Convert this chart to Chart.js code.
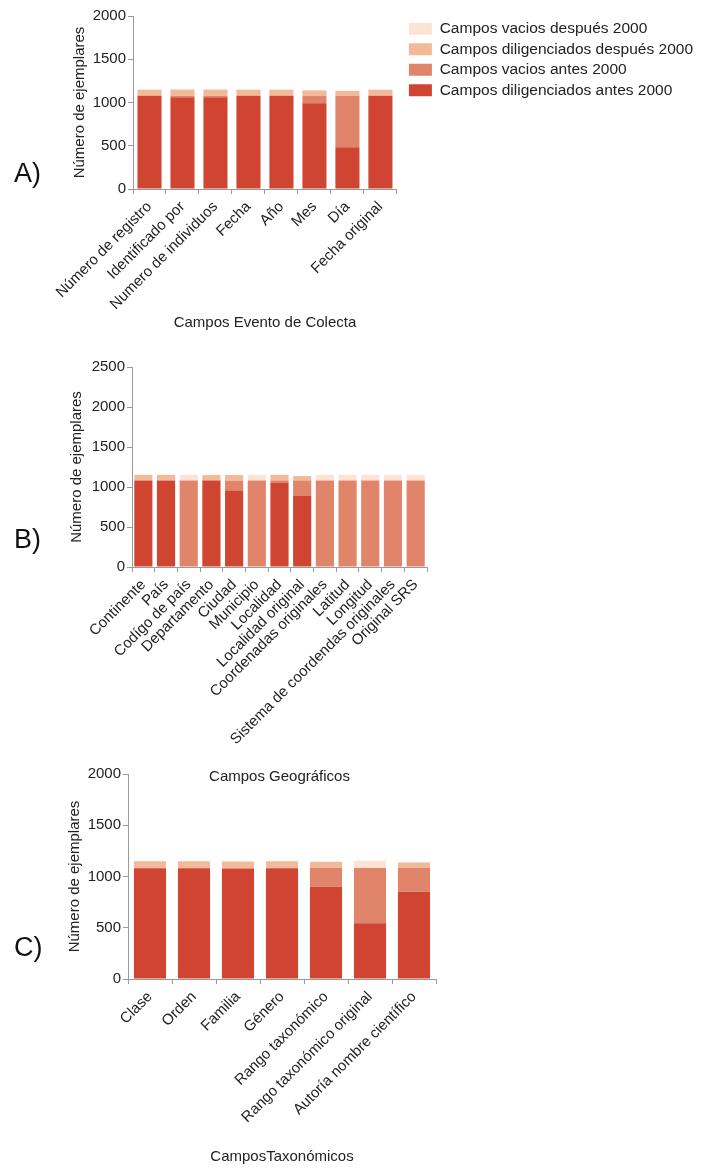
<!DOCTYPE html>
<html>
<head>
<meta charset="utf-8">
<script src="https://cdn.jsdelivr.net/npm/chart.js@4.4.1/dist/chart.umd.min.js"></script>
<style>
body { margin: 0; width: 705px; height: 1170px; position: relative; background: #fff; overflow: hidden; font-family: "Liberation Sans", Arial, sans-serif; }
canvas { position: absolute; left: 0; }
.panel { position: absolute; left: 14px; font-size: 27px; color: #111; }
</style>
</head>
<body>
<canvas id="chartA" width="705" height="336" style="top:0px"></canvas>
<canvas id="chartB" width="705" height="450" style="top:340px"></canvas>
<canvas id="chartC" width="705" height="410" style="top:760px"></canvas>
<div class="panel" style="top:158px">A)</div>
<div class="panel" style="top:524px">B)</div>
<div class="panel" style="top:932px">C)</div>
<script>
// series names (bottom to top of each stack)
const seriesNames = ['Campos diligenciados antes 2000', 'Campos vacios antes 2000', 'Campos diligenciados después 2000', 'Campos vacios después 2000'];
const seriesColors = ['#cf4532', '#e0846a', '#f2ba98', '#fce3d6'];

// A) Campos Evento de Colecta
const labelsA = ['Número de registro', 'Identificado por', 'Numero de individuos', 'Fecha', 'Año', 'Mes', 'Día', 'Fecha original'];
const dilAntesA = [1078, 1062, 1062, 1078, 1078, 990, 482, 1078];
const vacAntesA = [0, 16, 16, 0, 0, 88, 596, 0];
const dilDespA = [70, 72, 72, 70, 70, 62, 55, 70];
const vacDespA = [0, 0, 0, 0, 0, 0, 5, 0];

// B) Campos Geográficos
const labelsB = ['Continente', 'País', 'Codígo de país', 'Departamento', 'Ciudad', 'Municipio', 'Localidad', 'Localidad original', 'Coordenadas originales', 'Latitud', 'Longitud', 'Sistema de coordendas originales', 'Original SRS'];
const dilAntesB = [1082, 1082, 0, 1080, 955, 0, 1050, 890, 0, 0, 0, 0, 0];
const vacAntesB = [0, 0, 1082, 0, 125, 1082, 32, 192, 1082, 1082, 1082, 1082, 1082];
const dilDespB = [70, 70, 0, 70, 70, 0, 70, 55, 0, 0, 0, 0, 0];
const vacDespB = [0, 0, 70, 0, 0, 70, 0, 0, 70, 70, 70, 70, 70];

// C) Campos Taxonómicos
const labelsC = ['Clase', 'Orden', 'Familia', 'Género', 'Rango taxonómico', 'Rango taxonómico original', 'Autoría nombre científico'];
const dilAntesC = [1080, 1080, 1078, 1080, 900, 543, 852];
const vacAntesC = [0, 0, 0, 0, 185, 540, 230];
const dilDespC = [70, 70, 68, 70, 60, 0, 55];
const vacDespC = [0, 0, 0, 0, 0, 70, 0];

const yTicksA = [0, 500, 1000, 1500, 2000];
const yTicksB = [0, 500, 1000, 1500, 2000, 2500];
const yTicksC = [0, 500, 1000, 1500, 2000];

Chart.defaults.font.family = '"Liberation Sans", Arial, sans-serif';
Chart.defaults.color = '#222';

const axisGray = '#9a9a9a';

const makeChart = (id, labels, series, yTicks, xTitle, lay, showLegend) => {
    const ctx = document.getElementById(id).getContext('2d');
    const scales = {
        x: {
            stacked: true,
            grid: { display: true, drawOnChartArea: false, drawTicks: true, tickLength: 5, color: axisGray },
            border: { display: true, color: axisGray },
            ticks: { autoSkip: false, minRotation: 45, maxRotation: 45, padding: 4, font: { size: 15 } },
            title: { display: true, text: xTitle, font: { size: 15 }, padding: { top: 4, bottom: 4 } },
            afterFit: (s) => { s.height = lay.xHeight; s.paddingLeft = 0; s.paddingRight = 0; }
        },
        y: {
            stacked: true,
            min: yTicks[0],
            max: yTicks[yTicks.length - 1],
            grid: { display: true, drawOnChartArea: false, drawTicks: true, tickLength: 5, color: axisGray },
            border: { display: true, color: axisGray },
            ticks: {
                stepSize: yTicks[1] - yTicks[0],
                padding: 2,
                font: { size: 15 },
                callback: (v) => String(v)
            },
            title: { display: true, text: 'Número de ejemplares', font: { size: 15 }, padding: { top: 4, bottom: 4 } },
            afterFit: (s) => { s.width = lay.yWidth; }
        }
    };
    if (showLegend) {
        // empty axis, only leaves a gap between the bars and the legend
        scales.gap = {
            type: 'linear', position: 'right', display: true,
            grid: { display: false }, border: { display: false }, ticks: { display: false },
            afterFit: (s) => { s.width = lay.gap; }
        };
    }
    return new Chart(ctx, {
        type: 'bar',
        data: {
            labels: labels,
            datasets: series.map((d, i) => ({
                label: seriesNames[i],
                data: d,
                backgroundColor: seriesColors[i],
                borderWidth: 0,
                barPercentage: 1,
                categoryPercentage: lay.cat
            }))
        },
        options: {
            responsive: false,
            animation: false,
            layout: { padding: lay.padding },
            plugins: {
                tooltip: { enabled: false },
                legend: {
                    display: showLegend,
                    position: 'right',
                    align: 'start',
                    reverse: true,
                    maxWidth: 330,
                    labels: { boxWidth: 23, boxHeight: 12, padding: 5, font: { size: 15.5 }, color: '#222' }
                }
            },
            scales: scales
        }
    });
};

makeChart('chartA', labelsA, [dilAntesA, vacAntesA, dilDespA, vacDespA], yTicksA, 'Campos Evento de Colecta',
    { padding: { left: 67, top: 16, right: 2, bottom: 0 }, yWidth: 66, xHeight: 147, cat: 0.73, gap: 7 }, true);

makeChart('chartB', labelsB, [dilAntesB, vacAntesB, dilDespB, vacDespB], yTicksB, 'Campos Geográficos',
    { padding: { left: 64, top: 27, right: 278, bottom: 0 }, yWidth: 68, xHeight: 223, cat: 0.8 }, false);

makeChart('chartC', labelsC, [dilAntesC, vacAntesC, dilDespC, vacDespC], yTicksC, 'CamposTaxonómicos',
    { padding: { left: 62, top: 14, right: 269, bottom: 0 }, yWidth: 66, xHeight: 191, cat: 0.73 }, false);
</script>
</body>
</html>
